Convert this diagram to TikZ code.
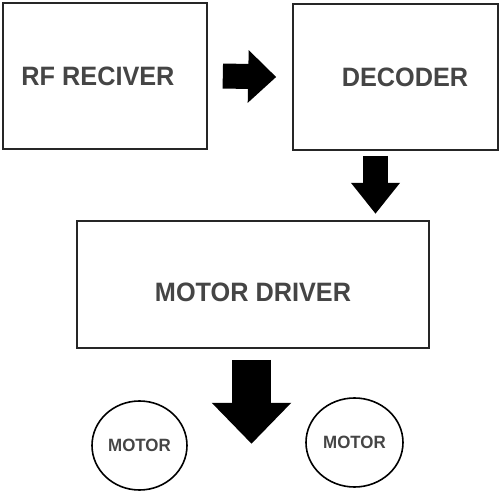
\documentclass[tikz,border=0pt]{standalone}
\usepackage{fontspec}
\setmainfont[FakeStretch=0.95]{Liberation Sans}
\usetikzlibrary{arrows.meta, shapes.geometric, positioning}
\definecolor{labelGray}{HTML}{454545}
\tikzset{
    block/.style={rectangle, draw=black!85, line width=0.8pt, fill=white, inner sep=0pt, font=\fontsize{13.3pt}{15pt}\selectfont\bfseries, text=labelGray},
    motor/.style={ellipse, draw=black, line width=0.8pt, inner sep=0pt, font=\fontsize{8.9pt}{10pt}\selectfont\bfseries, text=labelGray},
    fatArrow/.style={line width=12.5pt, -{Triangle[length=14pt, width=25.5pt]}},
}
\newcommand{\drawFat}[3][]{
    \draw[fatArrow, #1] (#2) -- (#3);
}

\begin{document}
\begin{tikzpicture}[x=0.5pt, y=-0.5pt]
        \useasboundingbox (0,0) rectangle (500,493);

        \node[block, minimum width=102pt, minimum height=73pt] (rf) at (105,76) {\hspace*{-7pt}RF RECIVER};
        \node[block, minimum width=102.5pt, minimum height=73pt] (dec) at (395.5,77) {\hspace*{9.5pt}DECODER};
        \node[block, minimum width=176pt, minimum height=63.5pt, text height=16.8pt, text depth=0pt] (drv) at (253,284.5) {MOTOR DRIVER};
        \node[motor, minimum width=47.5pt, minimum height=44.5pt] (m1) at (139.5,445.5) {MOTOR};
        \node[motor, minimum width=48.5pt, minimum height=44.5pt] (m2) at (354.5,442.5) {MOTOR};

        \coordinate (a1) at ([xshift=7.5pt]rf.east);
        \coordinate (b1) at ([xshift=-8pt]dec.west);
        \coordinate (a2) at ([xshift=-10pt, yshift=-2.5pt]dec.south);
        \coordinate (b2) at ([yshift=-29pt]a2);
        \coordinate (a3) at ([xshift=-0.75pt, yshift=-5.5pt]drv.south);
        \coordinate (b3) at ([yshift=-42pt]a3);

        \drawFat{a1}{b1}
        \drawFat[-{Triangle[length=15.5pt, width=23.5pt]}]{a2}{b2}
        \drawFat[line width=19.5pt, -{Triangle[length=20.5pt, width=38.5pt]}]{a3}{b3}

    \end{tikzpicture}
\end{document}
